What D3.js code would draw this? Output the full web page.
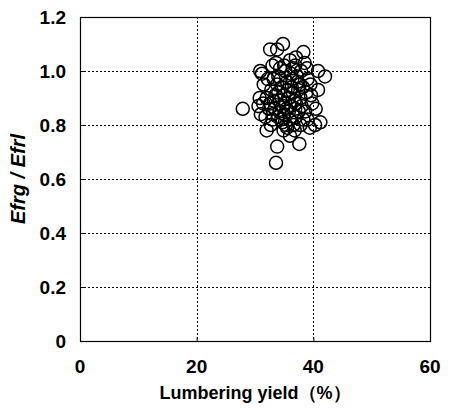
<!DOCTYPE html>
<html>
<head>
<meta charset="utf-8">
<script src="https://d3js.org/d3.v7.min.js"></script>
<style>
  body { margin: 0; background: #fff; }
  text { font-family: "Liberation Sans", Arial, sans-serif; }
</style>
</head>
<body>
<script>
// Data: lumbering yield (%) vs Efrg/Efrl
const yieldPct = [27.9,33.6,33.8,42.0,41.2,37.6,32.6,34.8,33.8,38.3,37.0,36.0,30.9,31.2,40.8,40.8,40.4,40.3,39.4,32.0,
  32.7,35.5,36.0,34.7,30.6,31.0,31.8,30.8,31.5,32.2,33.0,33.6,34.0,35.2,36.5,37.2,38.5,39.0,39.5,38.8,
  39.8,38.6,39.0,37.8,36.8,37.0,36.0,35.0,34.2,33.4,32.6,32.0,32.8,33.5,34.3,35.2,36.1,37.0,37.8,38.2,
  37.4,36.5,35.6,34.6,33.8,34.4,35.5,36.4,37.3,35.0,34.0,33.2,35.8,36.8,35.4,34.8,33.9,33.0,34.5,35.8,
  36.9,38.0,37.5,36.3,35.0,36.2,37.9,38.9,32.4,31.4,33.0,35.3,38.3,39.6,34.3,36.9,33.2,37.7,34.9,36.6];
const ratio = [0.86,0.66,0.72,0.98,0.81,0.73,1.08,1.10,1.08,1.07,1.05,1.04,1.00,0.99,1.00,0.93,0.86,0.80,0.79,0.78,
  0.80,0.79,0.76,0.81,0.87,0.84,0.83,0.90,0.95,0.97,1.02,1.03,0.98,1.00,1.01,0.98,1.03,0.97,0.95,0.92,
  0.88,0.85,0.82,0.80,0.78,0.83,0.82,0.84,0.85,0.86,0.88,0.90,0.93,0.91,0.89,0.88,0.87,0.88,0.90,0.94,
  0.93,0.92,0.93,0.94,0.95,0.97,0.96,0.97,0.96,0.91,0.92,0.89,0.90,0.89,0.86,0.87,0.83,0.84,0.82,0.85,
  0.86,0.87,0.85,0.94,1.02,0.99,1.00,1.01,0.86,0.88,0.82,0.80,0.82,0.91,1.01,1.02,0.97,0.95,0.78,0.80];
const xTicks = [0, 20, 40, 60];
const yTicks = [0, 0.2, 0.4, 0.6, 0.8, 1.0, 1.2];

const points = yieldPct.map((v, i) => ({ x: v, y: ratio[i] }));

const W = 449, H = 409;
const pLeft = 80, pRight = 430, pTop = 17, pBottom = 341;

const svg = d3.select("body").append("svg")
  .attr("width", W).attr("height", H);

const x = d3.scaleLinear().domain([0, 60]).range([pLeft, pRight]);
const y = d3.scaleLinear().domain([0, 1.2]).range([pBottom, pTop]);

// dotted gridlines
svg.append("g").selectAll("line")
  .data(xTicks.filter(d => d > 0 && d < 60))
  .join("line")
  .attr("x1", d => Math.round(x(d)) + 0.5).attr("x2", d => Math.round(x(d)) + 0.5)
  .attr("y1", pTop).attr("y2", pBottom)
  .attr("stroke", "#000").attr("stroke-width", 1)
  .attr("stroke-dasharray", "2,2");

svg.append("g").selectAll("line")
  .data(yTicks.filter(d => d > 0 && d < 1.2))
  .join("line")
  .attr("x1", pLeft).attr("x2", pRight)
  .attr("y1", d => Math.round(y(d)) + 0.5).attr("y2", d => Math.round(y(d)) + 0.5)
  .attr("stroke", "#000").attr("stroke-width", 1)
  .attr("stroke-dasharray", "2,2");

// axes with inward ticks, no labels (labels drawn separately)
svg.append("g")
  .attr("transform", `translate(0,${pBottom})`)
  .call(d3.axisTop(x).tickValues(xTicks).tickSize(4).tickFormat(""))
  .call(g => g.select(".domain").remove());

svg.append("g")
  .attr("transform", `translate(${pLeft},0)`)
  .call(d3.axisRight(y).tickValues(yTicks).tickSize(4).tickFormat(""))
  .call(g => g.select(".domain").remove());

// frame
svg.append("rect")
  .attr("x", pLeft + 0.5).attr("y", pTop + 0.5)
  .attr("width", pRight - pLeft).attr("height", pBottom - pTop)
  .attr("fill", "none").attr("stroke", "#000").attr("stroke-width", 1.2);

// points
svg.append("g").selectAll("circle")
  .data(points)
  .join("circle")
  .attr("cx", d => x(d.x))
  .attr("cy", d => y(d.y))
  .attr("r", 6.5)
  .attr("fill", "none")
  .attr("stroke", "#000")
  .attr("stroke-width", 1.5);

// tick labels
svg.append("g").selectAll("text")
  .data(xTicks)
  .join("text")
  .attr("x", d => x(d))
  .attr("y", 373)
  .attr("text-anchor", "middle")
  .attr("font-size", 19)
  .attr("font-weight", "bold")
  .text(d => d);

svg.append("g").selectAll("text")
  .data(yTicks)
  .join("text")
  .attr("x", 66)
  .attr("y", d => y(d) + 7)
  .attr("text-anchor", "end")
  .attr("font-size", 19)
  .attr("font-weight", "bold")
  .text(d => d === 0 ? "0" : d.toFixed(1));

// axis titles
svg.append("text")
  .attr("x", x(30)).attr("y", 399)
  .attr("text-anchor", "middle")
  .attr("font-size", 18)
  .attr("font-weight", "bold")
  .text("Lumbering yield（%）");

svg.append("text")
  .attr("transform", `translate(25,${(pTop + pBottom) / 2}) rotate(-90)`)
  .attr("text-anchor", "middle")
  .attr("font-size", 20)
  .attr("font-weight", "bold")
  .attr("font-style", "italic")
  .text("Efrg / Efrl");
</script>
</body>
</html>
